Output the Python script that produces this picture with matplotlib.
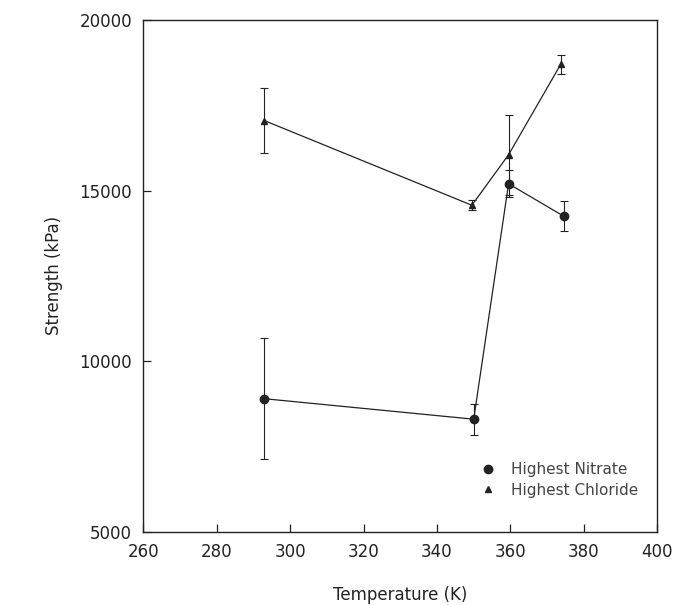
import numpy as np
import matplotlib.pyplot as plt
from matplotlib.lines import Line2D

# values
temp_nitrate = [293, 350, 359.5, 374.5]
str_nitrate = [8900, 8300, 15200, 14250]
err_nitrate = [1780, 450, 400, 430]

temp_chloride = [293, 349.5, 359.5, 373.7]
str_chloride = [17050, 14570, 16050, 18700]
err_chloride = [960, 150, 1170, 270]

x_ticks = [260, 280, 300, 320, 340, 360, 380, 400]
y_ticks = [5000, 10000, 15000, 20000]

ink = '#222222'

fig = plt.figure(figsize=(6.79, 6.05), dpi=100)
ax = fig.add_axes([0.211, 0.121, 0.757, 0.846])

ax.errorbar(temp_nitrate, str_nitrate, yerr=err_nitrate, fmt='o-', color=ink,
            ms=6, lw=0.9, elinewidth=0.8, capsize=3, capthick=0.8)
ax.errorbar(temp_chloride, str_chloride, yerr=err_chloride, fmt='^-', color=ink,
            ms=4, lw=0.9, elinewidth=0.8, capsize=3, capthick=0.8)

ax.set_xlim(260, 400)
ax.set_ylim(5000, 20000)
ax.set_xticks(x_ticks)
ax.set_yticks(y_ticks)
ax.tick_params(direction='in', length=6, width=0.9, colors=ink, labelsize=12,
               pad=8)
for s in ax.spines.values():
    s.set_linewidth(1.0)
    s.set_color(ink)

ax.set_xlabel('Temperature (K)', fontsize=12, color=ink, labelpad=18)
ax.set_ylabel('Strength (kPa)', fontsize=12, color=ink, labelpad=12)

# legend shows the markers only
handles = [Line2D([], [], ls='none', marker='o', ms=6, color=ink),
           Line2D([], [], ls='none', marker='^', ms=4, color=ink)]
leg = ax.legend(handles, ['Highest Nitrate', 'Highest Chloride'],
                loc='lower right', frameon=False, fontsize=11,
                handlelength=1.0, handletextpad=1.0, labelspacing=0.35,
                bbox_to_anchor=(0.99, 0.04))
for t in leg.get_texts():
    t.set_color('#444444')

fig.savefig('out.png', dpi=100)
